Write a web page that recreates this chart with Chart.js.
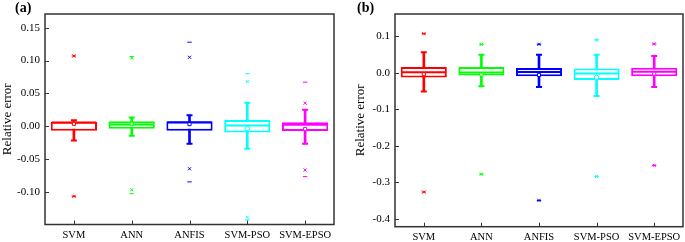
<!DOCTYPE html>
<html>
<head>
<meta charset="utf-8">
<script src="https://cdn.jsdelivr.net/npm/chart.js@4.4.1/dist/chart.umd.min.js"></script>
<style>
  html, body { margin: 0; padding: 0; background: #fff; }
  #wrap { position: relative; width: 685px; height: 242px; overflow: hidden; }
  .panel { position: absolute; top: 0; height: 242px; }
  .tag { position: absolute; top: 0; font: bold 14px "Liberation Serif", serif; color: #000; }
</style>
</head>
<body>
<div id="wrap">
  <div class="panel" style="left:0;width:345px"><canvas id="chartA" width="345" height="242"></canvas></div>
  <div class="panel" style="left:345px;width:340px"><canvas id="chartB" width="340" height="242"></canvas></div>
  <div class="tag" style="left:15px">(a)</div>
  <div class="tag" style="left:357px">(b)</div>
</div>
<script>
// --- Shared categories / colours ---
const categories = ['SVM', 'ANN', 'ANFIS', 'SVM-PSO', 'SVM-EPSO'];
const seriesColors = ['#ff0000', '#00ff00', '#0000ff', '#00ffff', '#ff00ff'];
const meanStyles = ['rect', 'rect', 'rect', 'circle', 'rect'];

// --- Panel (a) box statistics ---
const a_q1 = [-0.007, -0.004, -0.007, -0.0097, -0.0076];
const a_q3 = [0.0065, 0.0076, 0.0076, 0.0095, 0.006];
const a_median = [0.0055, 0.0024, 0.0055, 0.001, 0.002];
const a_mean = [0.0035, 0.0035, 0.003, -0.0036, -0.0045];
const a_whiskerLow = [-0.022, -0.0147, -0.027, -0.0344, -0.027];
const a_whiskerHigh = [0.009, 0.013, 0.0167, 0.0358, 0.025];
const a_p99 = [0.107, 0.104, 0.105, 0.068, 0.035];
const a_max = [0.107, 0.106, 0.128, 0.080, 0.067];
const a_p1 = [-0.107, -0.097, -0.065, -0.139, -0.067];
const a_min = [-0.107, -0.103, -0.085, -0.143, -0.077];
const a_ticks = { min: -0.15, max: 0.171, step: 0.05, decimals: 2 };

// --- Panel (b) box statistics ---
const b_q1 = [-0.013, -0.0077, -0.0096, -0.0197, -0.0096];
const b_q3 = [0.016, 0.016, 0.013, 0.0115, 0.014];
const b_median = [0.0014, 0.0005, 0.002, -0.002, 0.003];
const b_mean = [-0.004, -0.005, -0.006, -0.013, -0.003];
const b_whiskerLow = [-0.0515, -0.037, -0.039, -0.064, -0.039];
const b_whiskerHigh = [0.056, 0.049, 0.049, 0.049, 0.046];
const b_p99 = [0.107, 0.078, 0.078, 0.090, 0.079];
const b_max = [0.107, 0.078, 0.078, 0.090, 0.079];
const b_p1 = [-0.327, -0.278, -0.350, -0.284, -0.254];
const b_min = [-0.327, -0.278, -0.350, -0.284, -0.254];
const b_ticks = { min: -0.422, max: 0.161, step: 0.1, decimals: 1 };

const FONT = '"Liberation Serif", "Times New Roman", serif';

// Plot frame + inward tick marks (Origin style)
const framePlugin = {
    id: 'frame',
    afterDatasetsDraw(chart) {
        const { ctx, chartArea: a, scales } = chart;
        ctx.save();
        ctx.strokeStyle = '#333';
        ctx.lineWidth = 1.5;
        ctx.strokeRect(a.left, a.top, a.right - a.left, a.bottom - a.top);
        ctx.lineWidth = 1;
        ctx.beginPath();
        scales.y.ticks.forEach((t, i) => {
            const y = Math.round(scales.y.getPixelForTick(i)) + 0.5;
            ctx.moveTo(a.left, y); ctx.lineTo(a.left + 4, y);
        });
        scales.x.ticks.forEach((t, i) => {
            const x = Math.round(scales.x.getPixelForTick(i)) + 0.5;
            ctx.moveTo(x, a.bottom); ctx.lineTo(x, a.bottom - 4);
        });
        ctx.stroke();
        ctx.restore();
    }
};

// drop the label overhang paddings so the plot box sits where the layout says
function noOverhang(sc) {
    sc.paddingTop = 0; sc.paddingBottom = 0; sc.paddingLeft = 0; sc.paddingRight = 0;
}

// point-only dataset on the category axis
function marks(data, style, radius, width, order, fill) {
    return {
        type: 'line', data: data, showLine: false, order: order,
        pointStyle: style, pointRadius: radius, pointHoverRadius: radius,
        pointBorderWidth: width, pointBorderColor: seriesColors,
        pointBackgroundColor: fill || seriesColors
    };
}

function buildBoxChart(canvasId, s, yTicks, layout) {
    const datasets = [
        // whisker stems (full range, box drawn over them)
        { type: 'bar', data: s.low.map((v, i) => [v, s.high[i]]), backgroundColor: seriesColors,
          barThickness: 2, grouped: false, order: 9 },
        // boxes q1..q3
        { type: 'bar', data: s.q1.map((v, i) => [v, s.q3[i]]), backgroundColor: '#fff',
          borderColor: seriesColors, borderWidth: 2, borderSkipped: false,
          barPercentage: 0.8, categoryPercentage: 1, grouped: false, order: 8 },
        marks(s.median, 'line', 22, 2, 7),
        marks(s.high, 'line', 3, 2, 6),
        marks(s.low, 'line', 3, 2, 6),
        marks(s.mean, meanStyles, 2.2, 1, 5, '#fff'),
        marks(s.p99, 'crossRot', 2.2, 1, 4),
        marks(s.p1, 'crossRot', 2.2, 1, 4),
        marks(s.max, 'line', 2.2, 1, 4),
        marks(s.min, 'line', 2.2, 1, 4)
    ];

    return new Chart(document.getElementById(canvasId), {
        type: 'bar',
        data: { labels: categories, datasets: datasets },
        options: {
            responsive: false,
            animation: false,
            layout: { padding: layout.padding, autoPadding: false },
            plugins: { legend: { display: false }, tooltip: { enabled: false } },
            scales: {
                x: {
                    offset: true,
                    grid: { display: false, drawTicks: false },
                    border: { display: false },
                    afterFit: sc => { sc.height = layout.xHeight; noOverhang(sc); },
                    ticks: { color: '#000', padding: 4, autoSkip: false, maxRotation: 0,
                             font: { family: FONT, size: 10.5 } }
                },
                y: {
                    min: yTicks.min, max: yTicks.max,
                    grid: { display: false, drawTicks: false },
                    border: { display: false },
                    afterFit: sc => { sc.width = layout.yWidth; noOverhang(sc); },
                    ticks: {
                        stepSize: yTicks.step, includeBounds: false, padding: 5, color: '#000',
                        font: { family: FONT, size: 11 },
                        callback: v => Number(v).toFixed(yTicks.decimals)
                    },
                    title: {
                        display: true, text: 'Relative error', color: '#000',
                        font: { family: FONT, size: 13 }, padding: { top: layout.titlePad, bottom: 0 }
                    }
                }
            }
        },
        plugins: [framePlugin]
    });
}

buildBoxChart('chartA', {
    q1: a_q1, q3: a_q3, median: a_median, mean: a_mean, low: a_whiskerLow, high: a_whiskerHigh,
    p99: a_p99, max: a_max, p1: a_p1, min: a_min
}, a_ticks, { padding: { top: 14, right: 11, left: 0, bottom: 0 }, xHeight: 17.5, yWidth: 45, titlePad: 0 });

buildBoxChart('chartB', {
    q1: b_q1, q3: b_q3, median: b_median, mean: b_mean, low: b_whiskerLow, high: b_whiskerHigh,
    p99: b_p99, max: b_max, p1: b_p1, min: b_min
}, b_ticks, { padding: { top: 14, right: 2, left: 0, bottom: 0 }, xHeight: 15.3, yWidth: 50, titlePad: 8 });
</script>
</body>
</html>
